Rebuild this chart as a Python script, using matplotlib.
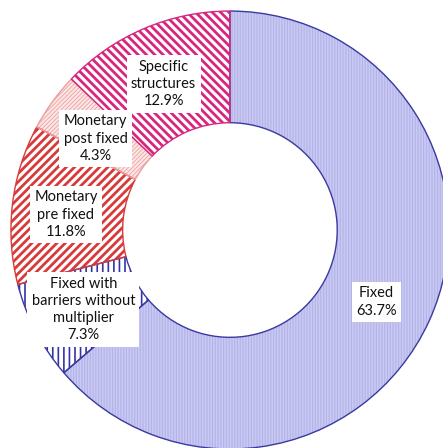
import matplotlib
matplotlib.use("Agg")
import matplotlib.pyplot as plt
import numpy as np

# share of each contract type, clockwise from 12 o'clock
categories = ["Fixed", "Fixed with\nbarriers without\nmultiplier",
              "Monetary\npre fixed", "Monetary\npost fixed",
              "Specific\nstructures"]
shares = [63.7, 7.3, 11.8, 4.3, 12.9]

faces = ["#c9c9f3", "white", "white", "#fbe6e6", "white"]
hatch_colors = ["#b3b3e8", "#3434a8", "#d83a3a", "#efa2a2", "#d8267e"]
hatches = ["||||||", "|||", "////", "////////", "\\\\\\\\"]
hatch_widths = [0.8, 1.2, 2.0, 0.6, 2.0]
edges = ["#3a3aa0", "#3a3aa0", "#d83a3a", "#ee9c9c", "#d8267e"]

plt.rcParams["font.family"] = ["Lato", "DejaVu Sans"]

fig = plt.figure(figsize=(4.43, 4.48), dpi=100)
ax = fig.add_axes([0, 0, 1, 1])

ring = 0.51
wedges, _ = ax.pie(shares, startangle=90, counterclock=False,
                   colors=faces, radius=1,
                   wedgeprops=dict(width=ring, linewidth=0))
for w, hc, h, hw in zip(wedges, hatch_colors, hatches, hatch_widths):
    w.set_edgecolor(hc)
    w.set_hatch(h)
    if hasattr(w, "set_hatch_linewidth"):
        w.set_hatch_linewidth(hw)
    w.set_linewidth(0)

# outlines drawn on top so the hatch keeps its own colour
outlines, _ = ax.pie(shares, startangle=90, counterclock=False, radius=1,
                     wedgeprops=dict(width=ring, linewidth=1.0,
                                     fill=False))
for w, ec in zip(outlines, edges):
    w.set_edgecolor(ec)

# labels in the middle of the ring
mid_r = 1 - ring / 2
for w, lab, val in zip(wedges, categories, shares):
    ang = np.deg2rad((w.theta1 + w.theta2) / 2)
    x, y = mid_r * np.cos(ang), mid_r * np.sin(ang)
    ax.annotate(f"{lab}\n{val:.1f}%", xy=(x, y), xytext=(-2, -4),
                textcoords="offset pixels", ha="center", va="center",
                fontsize=10.5, linespacing=1.3, color="#111111",
                bbox=dict(boxstyle="square,pad=0.3", fc="white", ec="none"))

ax.set_xlim(-1.050, 0.973)
ax.set_ylim(-0.995, 1.050)
ax.set_aspect("equal")
ax.axis("off")

fig.savefig("out.png", dpi=100)
